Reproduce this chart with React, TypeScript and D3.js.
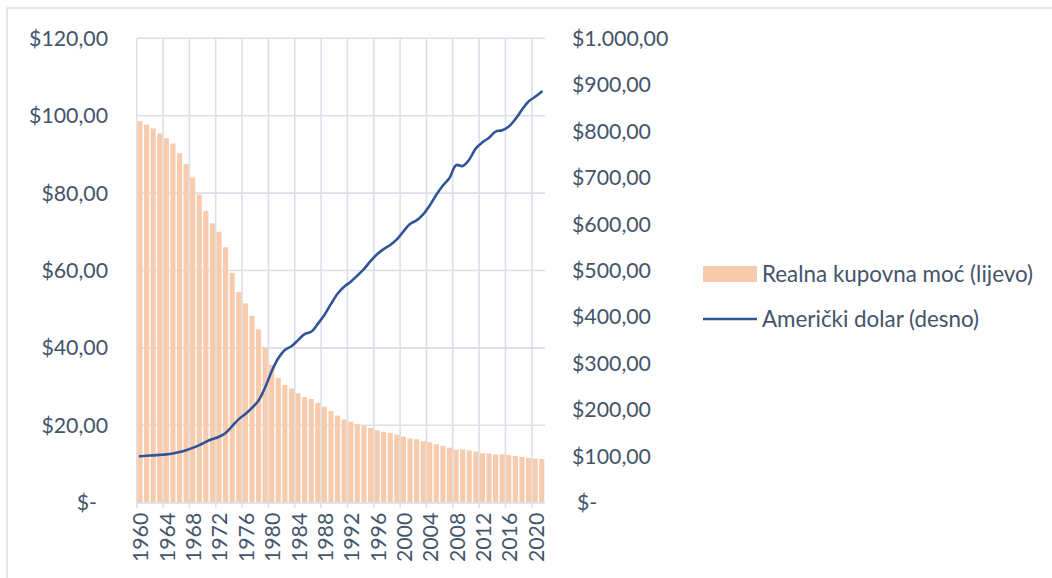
import React from "react";
import * as d3 from "d3";

// years 1960..2021
const years: number[] = [
  1960, 1961, 1962, 1963, 1964, 1965, 1966, 1967, 1968, 1969,
  1970, 1971, 1972, 1973, 1974, 1975, 1976, 1977, 1978, 1979,
  1980, 1981, 1982, 1983, 1984, 1985, 1986, 1987, 1988, 1989,
  1990, 1991, 1992, 1993, 1994, 1995, 1996, 1997, 1998, 1999,
  2000, 2001, 2002, 2003, 2004, 2005, 2006, 2007, 2008, 2009,
  2010, 2011, 2012, 2013, 2014, 2015, 2016, 2017, 2018, 2019,
  2020, 2021,
];

// Realna kupovna moć (left axis)
const purchasingPower: number[] = [
  98.6, 97.7, 96.7, 95.4, 94.2, 92.8, 90.3, 87.5, 84.0, 79.6,
  75.4, 72.2, 70.0, 66.0, 59.4, 54.4, 51.5, 48.3, 44.8, 40.2,
  35.6, 32.3, 30.4, 29.5, 28.3, 27.3, 26.8, 25.8, 24.8, 23.7,
  22.5, 21.5, 20.9, 20.3, 19.8, 19.3, 18.7, 18.3, 18.0, 17.6,
  17.1, 16.6, 16.4, 15.9, 15.6, 15.1, 14.7, 14.2, 13.7, 13.8,
  13.5, 13.2, 12.8, 12.7, 12.5, 12.5, 12.3, 12.1, 11.8, 11.6,
  11.4, 11.3,
];

// Američki dolar (right axis)
const usDollar: number[] = [
  100, 101, 102, 103, 104, 106, 109, 113, 118, 124,
  131, 137, 142, 150, 165, 180, 191, 204, 220, 248,
  283, 311, 329, 337, 350, 363, 368, 385, 404, 428,
  450, 465, 476, 489, 503, 520, 535, 546, 555, 567,
  584, 600, 608, 621, 640, 663, 683, 699, 727, 725,
  739, 763, 776, 786, 799, 802, 810, 826, 846, 864,
  874, 885,
];

const leftTicks: number[] = [0, 20, 40, 60, 80, 100, 120];
const rightTicks: number[] = [0, 100, 200, 300, 400, 500, 600, 700, 800, 900, 1000];
const yearTicks: number[] = [1960, 1964, 1968, 1972, 1976, 1980, 1984, 1988, 1992, 1996, 2000, 2004, 2008, 2012, 2016, 2020];

const seriesNames = ["Realna kupovna moć (lijevo)", "Američki dolar (desno)"];

const W = 1052;
const H = 578;
const plot = { left: 136.7, right: 545, top: 38.3, bottom: 502.7 };

const BAR = "#f8cbad";
const LINE = "#2f5597";
const GRID = "#dbe0e8";
const TEXT = "#44546a";
const FONT = "Lato, 'Open Sans', sans-serif";

// Excel accounting-ish format: $1.000,00
const money = (v: number) => {
  if (v === 0) return "$-";
  const [int, dec] = v.toFixed(2).split(".");
  return "$" + int.replace(/\B(?=(\d{3})+(?!\d))/g, ".") + "," + dec;
};

export default function App() {
  const x = d3
    .scaleBand<number>()
    .domain(years)
    .range([plot.left, plot.right])
    .paddingInner(0.22)
    .paddingOuter(0.11);
  const step = x.step();
  const yL = d3.scaleLinear().domain([0, 120]).range([plot.bottom, plot.top]);
  const yR = d3.scaleLinear().domain([0, 1000]).range([plot.bottom, plot.top]);

  const cx = (yr: number) => (x(yr) ?? 0) + x.bandwidth() / 2;
  const edge = (yr: number) => (x(yr) ?? 0) - (step - x.bandwidth()) / 2;

  const line = d3
    .line<number>()
    .x((_, i) => cx(years[i]))
    .y((d) => yR(d))
    .curve(d3.curveCatmullRom.alpha(0.5));

  return (
    <svg
      width={W}
      height={H}
      style={{ position: "absolute", left: 0, top: 0, background: "#fff" }}
      fontFamily={FONT}
    >
      <rect x={7} y={8} width={W + 20} height={H + 20} fill="#fff" stroke="#d9d9d9" strokeWidth={1.3} />

      {/* gridlines */}
      {leftTicks.map((t) => (
        <line key={"h" + t} x1={plot.left} x2={plot.right} y1={yL(t)} y2={yL(t)} stroke={GRID} strokeWidth={1.6} />
      ))}
      {yearTicks.map((yr) => (
        <line key={"v" + yr} x1={edge(yr)} x2={edge(yr)} y1={plot.top} y2={plot.bottom + 5} stroke={GRID} strokeWidth={1.6} />
      ))}

      {/* bars */}
      {years.map((yr, i) => (
        <rect
          key={"b" + yr}
          x={x(yr)}
          y={yL(purchasingPower[i])}
          width={x.bandwidth()}
          height={plot.bottom - yL(purchasingPower[i])}
          fill={BAR}
        />
      ))}

      <line x1={plot.left} x2={plot.right} y1={plot.bottom} y2={plot.bottom} stroke={GRID} strokeWidth={1.6} />

      {/* line */}
      <path d={line(usDollar) ?? ""} fill="none" stroke={LINE} strokeWidth={2.6} strokeLinecap="round" />

      {/* left axis */}
      {leftTicks.map((t) => (
        <text key={"l" + t} x={t === 0 ? 97 : 108} y={yL(t)} dy="0.35em" textAnchor="end" fontSize={21.3} fill={TEXT}>
          {money(t)}
        </text>
      ))}

      {/* right axis */}
      {rightTicks.map((t) => (
        <text key={"r" + t} x={t === 0 ? 577 : 572} y={yR(t)} dy="0.35em" textAnchor="start" fontSize={21.3} fill={TEXT}>
          {money(t)}
        </text>
      ))}

      {/* x axis labels */}
      {yearTicks.map((yr) => (
        <text
          key={"x" + yr}
          transform={`translate(${cx(yr) + 1},${plot.bottom + 10}) rotate(-90)`}
          dy="0.35em"
          textAnchor="end"
          fontSize={21.3}
          fill={TEXT}
        >
          {yr}
        </text>
      ))}

      {/* legend */}
      <g transform="translate(703,274)">
        <rect x={0} y={-8} width={54} height={16} fill={BAR} />
        <text x={59} y={0} dy="0.35em" fontSize={22.4} fill={TEXT}>{seriesNames[0]}</text>
      </g>
      <g transform="translate(703,319)">
        <line x1={0} x2={54} y1={0} y2={0} stroke={LINE} strokeWidth={2.6} />
        <text x={59} y={0} dy="0.35em" fontSize={22.4} fill={TEXT}>{seriesNames[1]}</text>
      </g>
    </svg>
  );
}
